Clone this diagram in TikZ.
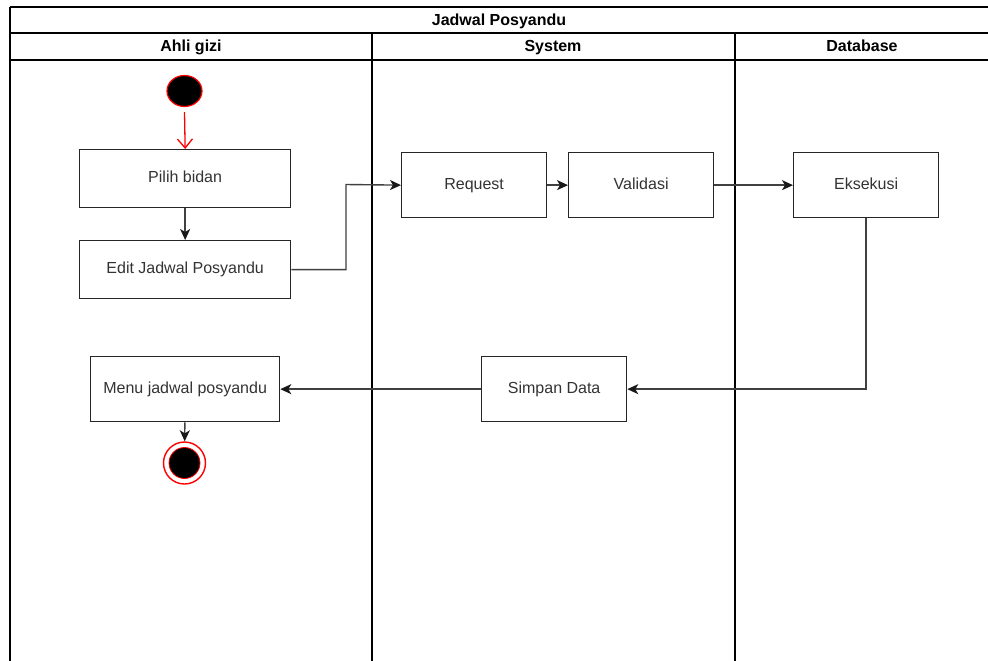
\documentclass[tikz,border=0pt]{standalone}
\usepackage{fontspec}
\setmainfont{Liberation Sans}
\usetikzlibrary{arrows.meta,shapes.geometric}
\begin{document}
\begin{tikzpicture}[x=1pt,y=-1pt,
  act/.style={draw=black!85,line width=1.3pt,fill=white,minimum width=145pt,minimum height=65pt,inner sep=0pt,text height=11.5pt,text depth=3.5pt,font=\fontsize{16}{19}\selectfont\color{black!80},anchor=north west},
  flow/.style={draw=black!75,line width=1.4pt,-{Stealth[length=11pt,width=10pt,inset=3pt,black!90]}},
  lane/.style={draw=black,line width=1.1pt},
  head/.style={font=\fontsize{16}{19}\selectfont\bfseries,anchor=base}]
\useasboundingbox (0,0) rectangle (988,661);
\clip (0,0) rectangle (988,661);
\fill[white] (0,0) rectangle (988,661);
% pool frame and lanes
\draw[lane] (10,7) -- (1000,7);
\draw[lane] (10,33) -- (1000,33);
\draw[lane] (10,60) -- (1000,60);
\draw[lane] (10,7) -- (10,670);
\draw[lane] (372,33) -- (372,670);
\draw[lane] (735,33) -- (735,670);
\node[head] (title) at (499,25.5) {Jadwal Posyandu};
\node[head] (h1) at (191,52) {Ahli gizi};
\node[head] (h2) at (553,52) {System};
\node[head] (h3) at (862,52) {Database};
% activities
\node[act,minimum width=211pt,minimum height=58pt] (pilih) at (79,149) {Pilih bidan};
\node[act,minimum width=211pt,minimum height=58pt] (edit) at (79,240) {Edit Jadwal Posyandu};
\node[act] (req) at (401,152) {Request};
\node[act] (val) at (568,152) {Validasi};
\node[act] (eks) at (793,152) {Eksekusi};
\node[act] (simpan) at (481,356) {Simpan Data};
\node[act,minimum width=189pt] (menu) at (90,356) {Menu jadwal posyandu};
% start and end
\node[draw=red,line width=1.2pt,fill=black,ellipse,minimum width=35pt,minimum height=31pt,inner sep=0pt] (start) at (184.5,91) {};
\node[draw=red,line width=1.4pt,fill=white,circle,minimum size=42pt,inner sep=0pt] (end) at (184.5,463) {};
\node[draw=red,line width=0.8pt,fill=black,circle,minimum size=31pt,inner sep=0pt] (endin) at (end.center) {};
% connectors
\draw[red,line width=1.3pt,-{Straight Barb[length=9pt,width=15pt]}] (start.south) ++(0,5) coordinate (s0) (s0) -- (pilih.north);
\draw[flow] (pilih) -- (edit);
\coordinate (bend1) at (346,184.5);
\draw[flow] (edit.east) -- (edit.east -| bend1) -- (bend1) -- (req.west);
\draw[flow] (req) -- (val);
\draw[flow] (val) -- (eks);
\draw[flow] (eks.south) |- (simpan.east);
\draw[flow] (simpan) -- (menu);
\draw[flow] (menu) -- (end);
\end{tikzpicture}
\end{document}
